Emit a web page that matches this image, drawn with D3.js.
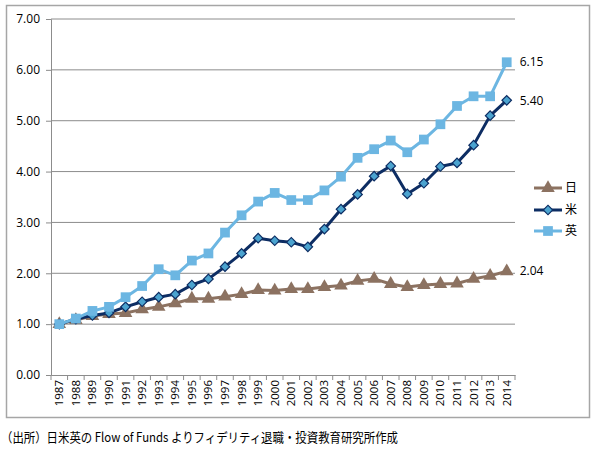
<!DOCTYPE html>
<html><head><meta charset="utf-8">
<script src="https://cdn.jsdelivr.net/npm/d3@7"></script>
<style>
html,body{margin:0;padding:0;background:#fff;}
text{font-family:"Noto Sans CJK JP","Noto Sans",sans-serif;}
</style></head>
<body><svg id="c" width="600" height="450"></svg>
<script>
const years = [1987,1988,1989,1990,1991,1992,1993,1994,1995,1996,1997,1998,1999,2000,2001,2002,2003,2004,2005,2006,2007,2008,2009,2010,2011,2012,2013,2014];
const japan = [1.00,1.08,1.16,1.20,1.22,1.29,1.34,1.41,1.50,1.50,1.54,1.59,1.67,1.66,1.69,1.69,1.73,1.76,1.85,1.89,1.79,1.73,1.77,1.79,1.80,1.89,1.95,2.04];
const usa   = [1.00,1.10,1.17,1.22,1.34,1.44,1.53,1.59,1.77,1.89,2.13,2.39,2.69,2.64,2.61,2.52,2.87,3.26,3.55,3.91,4.11,3.56,3.77,4.10,4.17,4.52,5.10,5.40];
const uk    = [1.00,1.11,1.26,1.34,1.53,1.75,2.08,1.96,2.25,2.39,2.80,3.14,3.41,3.58,3.44,3.44,3.63,3.90,4.27,4.44,4.61,4.38,4.63,4.93,5.29,5.48,5.48,6.15];
const seriesNames = ["日","米","英"];
const yTicks = [0,1,2,3,4,5,6,7];
const endLabels = ["2.04","5.40","6.15"];
const caption = "（出所）日米英の Flow of Funds よりフィデリティ退職・投資教育研究所作成";

const svg = d3.select("#c");
const L=51, R=515, T=19, B=375;

svg.append("rect").attr("x",6.5).attr("y",5.5).attr("width",583).attr("height",412)
  .attr("fill","#fff").attr("stroke","#a6a6a6").attr("stroke-width",1.5);

const x = d3.scaleBand().domain(years).range([L,R]);
const y = d3.scaleLinear().domain([0,7]).range([B,T]);

svg.append("g").selectAll("line").data(yTicks.filter(d=>d>0)).join("line")
  .attr("x1",L).attr("x2",R).attr("y1",d=>y(d)).attr("y2",d=>y(d))
  .attr("stroke","#8c8c8c").attr("stroke-width",1);

const ya = svg.append("g").attr("transform",`translate(${L},0)`)
  .call(d3.axisLeft(y).tickValues(yTicks).tickFormat(d3.format(".2f")).tickSize(5).tickPadding(6));
ya.select(".domain").attr("stroke","#8c8c8c");
ya.selectAll(".tick line").attr("stroke","#8c8c8c");
ya.selectAll("text").attr("font-size",12).attr("fill","#000").style("font-family","'Open Sans','Noto Sans',sans-serif");

const xa = svg.append("g").attr("transform",`translate(0,${B})`)
  .call(d3.axisBottom(x).tickSize(0).tickPadding(4));
xa.select(".domain").attr("stroke","#8c8c8c");
xa.selectAll(".tick line").remove();
xa.selectAll(".tick text").attr("font-size",11.5).attr("fill","#000")
  .style("font-family","'Open Sans','Noto Sans',sans-serif")
  .attr("transform","rotate(-90)").attr("text-anchor","end")
  .attr("x",-5).attr("y",0).attr("dy","0.35em");
const bounds = years.map(d=>x(d)).concat([R]);
svg.append("g").selectAll("line").data(bounds).join("line")
  .attr("x1",d=>d).attr("x2",d=>d).attr("y1",B).attr("y2",B+5)
  .attr("stroke","#8c8c8c");

const cx = d=>x(d)+x.bandwidth()/2;
const line = d3.line().x((d,i)=>cx(years[i])).y(d=>y(d));

const styles = [
  {data:japan, color:"#8c7261", fill:"#8c7261", stroke:"none", sym:d3.symbolTriangle, size:80, rot:0},
  {data:usa, color:"#0d2d63", fill:"#4ba3cf", stroke:"#0d2d63", sym:d3.symbolSquare, size:45, rot:45},
  {data:uk, color:"#6cb6e2", fill:"#6cb6e2", stroke:"none", sym:d3.symbolSquare, size:95, rot:0}
];
styles.forEach((s)=>{
  svg.append("path").datum(s.data).attr("d",line).attr("fill","none")
    .attr("stroke",s.color).attr("stroke-width",3).attr("stroke-linejoin","round");
  svg.append("g").selectAll("path").data(s.data).join("path")
    .attr("transform",(d,i)=>`translate(${cx(years[i])},${y(d)}) rotate(${s.rot})`)
    .attr("d",d3.symbol().type(s.sym).size(s.size))
    .attr("fill",s.fill).attr("stroke",s.stroke).attr("stroke-width",1.2);
});

const lastX = cx(years[years.length-1]);
[japan,usa,uk].forEach((arr,i)=>{
  svg.append("text").attr("x",lastX+13).attr("y",y(arr[arr.length-1])).attr("dy","0.35em")
    .attr("font-size",12).attr("fill","#000").style("font-family","'Open Sans','Noto Sans',sans-serif")
    .text(endLabels[i]);
});

const ly = [188,210,231];
styles.forEach((s,i)=>{
  const g = svg.append("g").attr("transform",`translate(534,${ly[i]})`);
  g.append("line").attr("x1",0).attr("x2",28).attr("y1",0).attr("y2",0).attr("stroke",s.color).attr("stroke-width",3);
  g.append("path").attr("transform",`translate(14,0) rotate(${s.rot})`).attr("d",d3.symbol().type(s.sym).size(s.size)).attr("fill",s.fill).attr("stroke",s.stroke).attr("stroke-width",1.2);
  g.append("text").attr("x",31).attr("y",0).attr("dy","0.35em").attr("font-size",12).attr("fill","#000").text(seriesNames[i]);
});

svg.append("text").attr("x",1).attr("y",437).attr("dy","0.35em").attr("font-size",13).attr("fill","#000")
  .attr("textLength",397).attr("lengthAdjust","spacingAndGlyphs").text(caption);
</script></body></html>
